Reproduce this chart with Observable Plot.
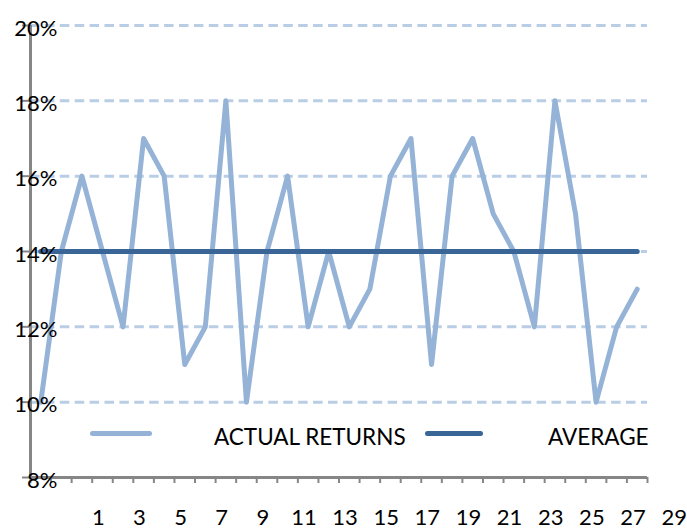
<!DOCTYPE html>
<html>
<head>
<meta charset="utf-8">
<script src="https://cdn.jsdelivr.net/npm/d3@7"></script>
<script src="https://cdn.jsdelivr.net/npm/@observablehq/plot@0.6"></script>
<style>
  html, body { margin: 0; padding: 0; background: #fff; }
  #wrap { position: relative; width: 687px; height: 528px; overflow: hidden; font-family: Lato, "Open Sans", sans-serif; }
  .sw { position: absolute; height: 5px; border-radius: 2.5px; }
  .lt { position: absolute; font-size: 22.5px; color: #000; line-height: 1; white-space: nowrap; }
</style>
</head>
<body>
<div id="wrap"></div>
<script>
// ---- data ----
const periods = [1,2,3,4,5,6,7,8,9,10,11,12,13,14,15,16,17,18,19,20,21,22,23,24,25,26,27,28,29,30];
const actualReturns = [10,14,16,14,12,17,16,11,12,18,10,14,16,12,14,12,13,16,17,11,16,17,15,14,12,18,15,10,12,13];
const averageReturns = [14,14,14,14,14,14,14,14,14,14,14,14,14,14,14,14,14,14,14,14,14,14,14,14,14,14,14,14,14,14];
const yTicks = [8,10,12,14,16,18,20];
const gridValues = [10,12,14,16,18,20];
const xLabels = [1,3,5,7,9,11,13,15,17,19,21,23,25,27,29];
const seriesNames = ["ACTUAL RETURNS", "AVERAGE"];
const seriesColors = ["#95b3d7", "#3a6597"];

const actualRows = periods.map((p, i) => ({period: p, value: actualReturns[i]}));
const averageRows = periods.map((p, i) => ({period: p, value: averageReturns[i]}));
const xDomain = [periods[0] - 0.5, periods[periods.length - 1] + 0.5];
const xTickMarks = d3.range(xDomain[0], xDomain[1] + 0.001, 1);

const axisGray = "#868686";

const chart = Plot.plot({
  width: 687,
  height: 528,
  marginLeft: 30,
  marginRight: 40,
  marginTop: 25,
  marginBottom: 51,
  style: {fontFamily: "Lato, 'Open Sans', sans-serif", fontSize: "22px", color: "#000", background: "#fff", overflow: "visible"},
  x: {type: "linear", domain: xDomain, label: null},
  y: {type: "linear", domain: [yTicks[0], yTicks[yTicks.length - 1]], label: null},
  marks: [
    Plot.ruleY(gridValues, {stroke: "#b9cde5", strokeWidth: 3, strokeDasharray: "9.5,5.4"}),
    Plot.line(actualRows, {x: "period", y: "value", stroke: seriesColors[0], strokeWidth: 5, strokeLinejoin: "round", strokeLinecap: "round"}),
    Plot.line(averageRows, {x: "period", y: "value", stroke: seriesColors[1], strokeWidth: 5, strokeLinecap: "round"}),
    Plot.ruleY([yTicks[0]], {stroke: axisGray, strokeWidth: 3}),
    Plot.ruleX([xDomain[0]], {stroke: axisGray, strokeWidth: 3}),
    Plot.axisX({ticks: xTickMarks, tickSize: 6, text: null, stroke: axisGray, strokeWidth: 2, label: null}),
    Plot.axisX({ticks: xLabels, tickSize: 0, tickPadding: 32, dx: 57.5, fontSize: 22, tickFormat: d => String(d), label: null}),
    Plot.axisY({ticks: yTicks, tickSize: 8, text: null, stroke: axisGray, strokeWidth: 2, label: null}),
    Plot.axisY({ticks: yTicks, tickSize: 0, tickPadding: 0, dx: 27, dy: 3, fontSize: 22, tickFormat: d => d + "%", label: null})
  ]
});

const wrap = document.getElementById("wrap");
wrap.appendChild(chart);

// legend (inside plot area, as in the reference)
const legend = [
  {name: seriesNames[0], color: seriesColors[0], swLeft: 90, swWidth: 62, textLeft: 214},
  {name: seriesNames[1], color: seriesColors[1], swLeft: 425, swWidth: 58, textLeft: 548}
];
legend.forEach(l => {
  const sw = document.createElement("div");
  sw.className = "sw";
  sw.style.left = l.swLeft + "px";
  sw.style.top = "431px";
  sw.style.width = l.swWidth + "px";
  sw.style.background = l.color;
  wrap.appendChild(sw);
  const t = document.createElement("div");
  t.className = "lt";
  t.style.left = l.textLeft + "px";
  t.style.top = "426px";
  t.textContent = l.name;
  wrap.appendChild(t);
});
</script>
</body>
</html>
